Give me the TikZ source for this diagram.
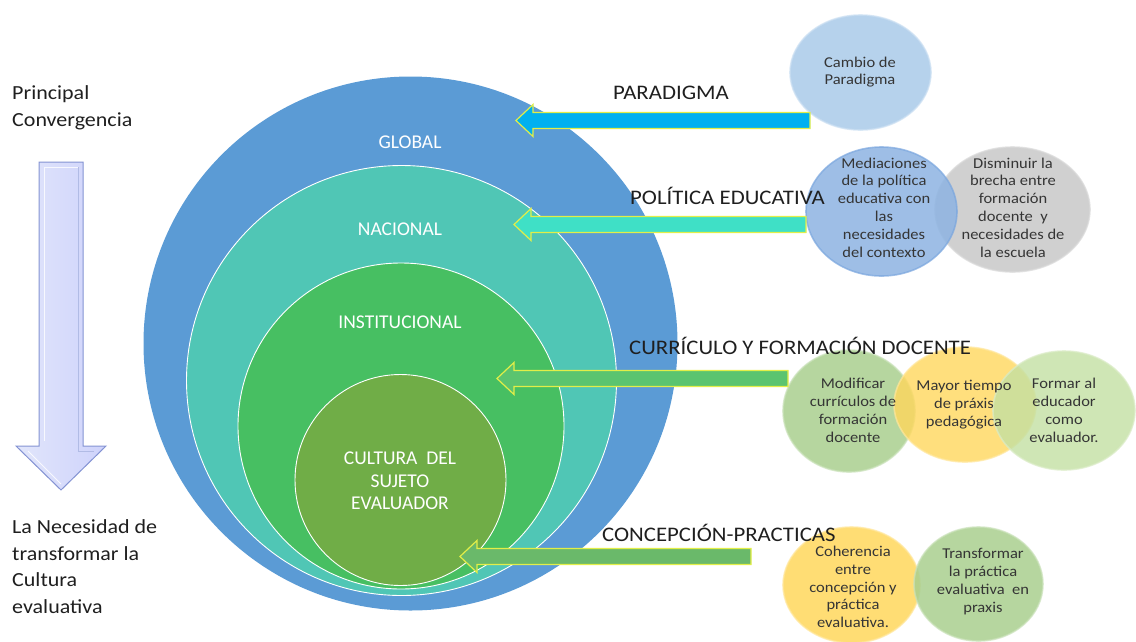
\documentclass[tikz,border=0pt]{standalone}
\usepackage{fontspec}
\setmainfont{Carlito}[FakeStretch=1.1]
\newfontfamily\ringfont{Carlito}
\usetikzlibrary{shapes.geometric}
\definecolor{cglobal}{HTML}{5B9BD5}
\definecolor{cnacional}{HTML}{50C6B5}
\definecolor{cinst}{HTML}{47BF62}
\definecolor{ccultura}{HTML}{70AD47}
\definecolor{arrowedge}{HTML}{E2EE48}
\definecolor{acyan}{HTML}{00B0F0}
\definecolor{aturq}{HTML}{3FE0C6}
\definecolor{agreen}{HTML}{5BC46F}
\definecolor{agreenb}{HTML}{6AB96A}
\definecolor{vcambio}{HTML}{A9CAE9}
\definecolor{vmedia}{HTML}{8DB3E2}
\definecolor{vmediaedge}{HTML}{7AA6DE}
\definecolor{vgray}{HTML}{C8C8C8}
\definecolor{volive}{HTML}{A9CF8E}
\definecolor{vyellow}{HTML}{FFD75C}
\definecolor{vlight}{HTML}{C3E0A2}
\definecolor{txtdark}{HTML}{1F1F1F}
\definecolor{downfill}{HTML}{CDD5F8}
\definecolor{downedge}{HTML}{8493D3}
\newcommand\myLArrow[4]{%
  \fill[#4, draw=arrowedge, line width=1.2pt, line join=miter]
    (#2,#3-8) -- (#1+17,#3-8) -- (#1+17,#3-16) -- (#1,#3) --
    (#1+17,#3+16) -- (#1+17,#3+8) -- (#2,#3+8) -- cycle;}
\begin{document}
\begin{tikzpicture}[x=1pt,y=-1pt,
  ring/.style={circle, inner sep=0pt, draw=white, line width=0.9pt},
  ringlabel/.style={text=white, font=\ringfont\fontsize{19.5}{22.5}\selectfont, align=center, inner sep=0pt},
  venn/.style={ellipse, inner sep=0pt, line width=1.6pt, fill opacity=0.85, draw opacity=0.7},
  vtext/.style={text=txtdark!90, font=\fontsize{15}{17.8}\selectfont, align=center, inner sep=0pt},
  alabel/.style={text=txtdark, font=\fontsize{20.7}{24}\selectfont, anchor=west, inner sep=0pt},
  sidetext/.style={text=txtdark, font=\fontsize{20}{26.5}\selectfont, align=left, anchor=west, inner sep=0pt}]
\useasboundingbox (0,0) rectangle (1136,641);

% concentric rings
\node[ring, fill=cglobal, draw=none, minimum size=534pt] (global) at (410.5,343.5) {};
\node[ring, fill=cnacional, minimum size=430pt] (nacional) at (401.5,380.5) {};
\node[ring, fill=cinst, minimum size=326pt] (institucional) at (401,426) {};
\node[ring, fill=ccultura, minimum size=211pt] (cultura) at (400.5,480) {};

\node[ringlabel] (lglobal) at (410,142) {GLOBAL};
\node[ringlabel] (lnacional) at (400,229) {NACIONAL};
\node[ringlabel] (linst) at (400,322) {INSTITUCIONAL};
\node[ringlabel] (lcultura) at (400,481) {CULTURA\ \ DEL\\SUJETO\\EVALUADOR};

% left side
\node[sidetext] (principal) at (12,108) {Principal\\Convergencia};
\node[sidetext] (necesidad) at (12,566.5) {La Necesidad de\\transformar la\\Cultura\\evaluativa};
\shade[left color=downfill!60!white, right color=downfill!85!blue!60!white, draw=downedge, line width=1pt]
  (39,162) -- (83,162) -- (83,446) -- (106,446) -- (61,490) -- (16,446) -- (39,446) -- cycle;
\draw[white, line width=1pt, opacity=0.8] (44,441) -- (44,167) -- (78,167);
\draw[downedge!70, line width=0.8pt, opacity=0.8] (78,167) -- (78,451) -- (94,451);
\draw[white, line width=0.8pt, opacity=0.8] (28,451) -- (61,484);
\coordinate (downtop) at (61,162);
\coordinate (downtip) at (61,490);

% Venn groups
\node[venn, fill=vcambio, draw=vcambio!60!white, minimum width=141pt, minimum height=115pt] (cambio) at (860.5,72.5) {};

\node[venn, fill=vgray, draw=vgray!70!white, minimum width=155pt, minimum height=125pt] (disminuir) at (1012.5,209.5) {};
\node[venn, fill=vmedia, draw=vmediaedge, minimum width=151pt, minimum height=129pt] (mediaciones) at (881.5,211.5) {};

\node[venn, fill=volive, draw=volive!60!white, minimum width=132pt, minimum height=122pt] (modificar) at (849,411) {};
\node[venn, fill=vyellow, draw=vyellow!60!white, fill opacity=0.8, minimum width=142pt, minimum height=115pt] (mayor) at (965,404.5) {};
\node[venn, fill=vlight, draw=vlight!60!white, fill opacity=0.8, minimum width=142pt, minimum height=119pt] (formar) at (1064,410.5) {};

\node[venn, fill=vyellow, draw=vyellow!60!white, minimum width=137pt, minimum height=116pt] (coherencia) at (851.5,585) {};
\node[venn, fill=volive, draw=volive!60!white, minimum width=129pt, minimum height=114pt] (transformar) at (978.5,584) {};

% block arrows
\coordinate (a1tip) at (516,120.5);
\coordinate (a2tip) at (514,224.5);
\coordinate (a3tip) at (497,378.5);
\coordinate (a4tip) at (460,556.5);
\myLArrow{516}{810}{120.5}{acyan}
\myLArrow{514}{806}{224.5}{aturq}
\myLArrow{497}{788}{378.5}{agreen}
\myLArrow{460}{751}{556.5}{agreenb}

% arrow labels
\node[alabel] (lparadigma) at (613,93) {PARADIGMA};
\node[alabel] (lpolitica) at (630,196) {POLÍTICA EDUCATIVA};
\node[alabel] (lcurriculo) at (629,346) {CURRÍCULO Y FORMACIÓN DOCENTE};
\node[alabel] (lconcepcion) at (602,533) {CONCEPCIÓN-PRACTICAS};

% venn texts
\node[vtext] (tcambio) at (860,72) {Cambio de\\Paradigma};
\node[vtext] (tmedia) at (884,207.5) {Mediaciones\\de la política\\educativa con\\las\\necesidades\\del contexto};
\node[vtext] (tdism) at (1013,207.5) {Disminuir la\\brecha entre\\formación\\docente\ \ y\\necesidades de\\la escuela};
\node[vtext] (tmodif) at (853,410.5) {Modificar\\currículos de\\formación\\docente};
\node[vtext] (tmayor) at (964,404.5) {Mayor tiempo\\de práxis\\pedagógica};
\node[vtext] (tformar) at (1064,410.5) {Formar al\\educador\\como\\evaluador.};
\node[vtext] (tcoher) at (853,587) {Coherencia\\entre\\concepción y\\práctica\\evaluativa.};
\node[vtext] (ttransf) at (983,581.5) {Transformar\\la práctica\\evaluativa\ \ en\\praxis};
\end{tikzpicture}
\end{document}
